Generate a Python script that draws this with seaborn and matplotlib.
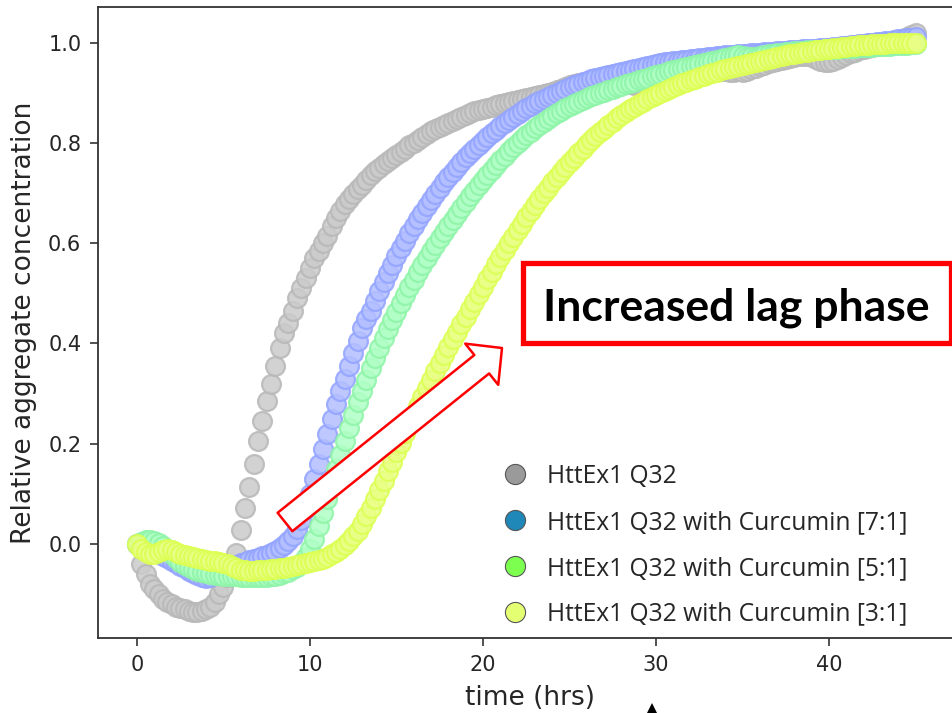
import numpy as np
import pandas as pd
import matplotlib.pyplot as plt
import seaborn as sns
from matplotlib.lines import Line2D
from matplotlib.patches import Rectangle, FancyArrowPatch, Polygon, ArrowStyle

# readings every 15 min (0 .. 45 h)
time_hrs = np.arange(0, 45.25, 0.25)

q32 = [
    0.0, -0.04, -0.06, -0.08, -0.09, -0.10, -0.11, -0.115, -0.12, -0.125, -0.128, -0.13, -0.133, -0.135, -0.135, -0.134, -0.13, -0.125, -0.115, -0.10,
    -0.085, -0.066, -0.046, -0.018, 0.028, 0.072, 0.114, 0.16, 0.205, 0.245, 0.285, 0.32, 0.355, 0.39, 0.42, 0.44, 0.465, 0.49, 0.51, 0.53,
    0.55, 0.57, 0.585, 0.60, 0.615, 0.635, 0.65, 0.665, 0.677, 0.688, 0.698, 0.707, 0.715, 0.725, 0.735, 0.743, 0.75, 0.757, 0.763, 0.77,
    0.776, 0.782, 0.788, 0.795, 0.80, 0.806, 0.812, 0.818, 0.823, 0.828, 0.832, 0.836, 0.84, 0.844, 0.848, 0.852, 0.856, 0.86, 0.863, 0.866,
    0.868, 0.87, 0.872, 0.875, 0.878, 0.88, 0.882, 0.884, 0.886, 0.888, 0.89, 0.892, 0.894, 0.896, 0.898, 0.90, 0.902, 0.905, 0.908, 0.911,
    0.915, 0.918, 0.92, 0.918, 0.916, 0.914, 0.913, 0.913, 0.914, 0.915, 0.917, 0.919, 0.921, 0.92, 0.918, 0.916, 0.915, 0.916, 0.918, 0.92,
    0.923, 0.926, 0.929, 0.932, 0.935, 0.937, 0.94, 0.942, 0.944, 0.946, 0.947, 0.948, 0.949, 0.948, 0.946, 0.944, 0.943, 0.942, 0.942, 0.943,
    0.942, 0.944, 0.947, 0.95, 0.953, 0.956, 0.959, 0.962, 0.964, 0.966, 0.968, 0.97, 0.972, 0.973, 0.974, 0.974, 0.972, 0.968, 0.964, 0.962,
    0.962, 0.964, 0.968, 0.972, 0.976, 0.979, 0.982, 0.985, 0.987, 0.989, 0.991, 0.993, 0.995, 0.997, 0.999, 1.001, 1.004, 1.007, 1.01, 1.014,
    1.018,
]

curc_7_1 = [
    0.0, 0.0, -0.004, -0.008, -0.013, -0.018, -0.023, -0.028, -0.033, -0.038, -0.043, -0.048, -0.053, -0.058, -0.062, -0.066, -0.068, -0.066, -0.062, -0.058,
    -0.052, -0.048, -0.045, -0.042, -0.038, -0.035, -0.032, -0.03, -0.027, -0.024, -0.021, -0.018, -0.014, -0.008, -0.002, 0.006, 0.016, 0.03, 0.048, 0.07,
    0.1, 0.13, 0.16, 0.19, 0.22, 0.25, 0.28, 0.305, 0.33, 0.355, 0.38, 0.405, 0.43, 0.448, 0.465, 0.485, 0.505, 0.523, 0.54, 0.557,
    0.574, 0.59, 0.605, 0.62, 0.634, 0.648, 0.661, 0.674, 0.686, 0.698, 0.71, 0.721, 0.732, 0.742, 0.752, 0.762, 0.771, 0.78, 0.788, 0.796,
    0.804, 0.812, 0.819, 0.826, 0.833, 0.84, 0.846, 0.852, 0.858, 0.864, 0.869, 0.874, 0.879, 0.884, 0.888, 0.892, 0.896, 0.9, 0.904, 0.908,
    0.912, 0.915, 0.918, 0.921, 0.924, 0.927, 0.93, 0.932, 0.934, 0.936, 0.938, 0.94, 0.942, 0.944, 0.946, 0.948, 0.95, 0.952, 0.954, 0.956,
    0.958, 0.96, 0.961, 0.962, 0.963, 0.964, 0.965, 0.966, 0.967, 0.968, 0.969, 0.97, 0.971, 0.972, 0.973, 0.974, 0.975, 0.975, 0.976, 0.977,
    0.978, 0.978, 0.979, 0.98, 0.98, 0.981, 0.982, 0.982, 0.983, 0.984, 0.984, 0.985, 0.986, 0.986, 0.987, 0.987, 0.988, 0.988, 0.989, 0.989,
    0.99, 0.991, 0.992, 0.993, 0.994, 0.995, 0.996, 0.997, 0.998, 0.999, 1.0, 1.001, 1.002, 1.003, 1.004, 1.005, 1.006, 1.007, 1.008, 1.009,
    1.01,
]

curc_5_1 = [
    0.0, 0.005, 0.008, 0.008, 0.006, 0.002, -0.004, -0.012, -0.02, -0.028, -0.035, -0.041, -0.046, -0.05, -0.053, -0.056, -0.058, -0.06, -0.061, -0.062,
    -0.063, -0.063, -0.064, -0.064, -0.065, -0.065, -0.066, -0.066, -0.066, -0.066, -0.065, -0.064, -0.063, -0.061, -0.058, -0.055, -0.05, -0.045, -0.037, -0.025,
    -0.01, 0.01, 0.035, 0.062, 0.09, 0.12, 0.15, 0.178, 0.205, 0.232, 0.258, 0.283, 0.306, 0.328, 0.35, 0.37, 0.39, 0.41, 0.428, 0.446,
    0.463, 0.48, 0.496, 0.512, 0.527, 0.542, 0.556, 0.57, 0.584, 0.597, 0.61, 0.622, 0.634, 0.646, 0.658, 0.67, 0.682, 0.693, 0.704, 0.715,
    0.725, 0.735, 0.745, 0.755, 0.765, 0.774, 0.783, 0.792, 0.80, 0.808, 0.815, 0.822, 0.829, 0.836, 0.842, 0.848, 0.854, 0.859, 0.864, 0.869,
    0.873, 0.877, 0.881, 0.885, 0.889, 0.893, 0.896, 0.899, 0.902, 0.905, 0.908, 0.911, 0.914, 0.917, 0.92, 0.922, 0.925, 0.928, 0.93, 0.933,
    0.935, 0.938, 0.94, 0.943, 0.945, 0.947, 0.95, 0.952, 0.954, 0.956, 0.958, 0.96, 0.962, 0.964, 0.966, 0.968, 0.97, 0.972, 0.974, 0.975,
    0.974, 0.972, 0.971, 0.972, 0.974, 0.975, 0.977, 0.978, 0.979, 0.98, 0.981, 0.982, 0.983, 0.983, 0.984, 0.985, 0.985, 0.986, 0.986, 0.987,
    0.987, 0.988, 0.988, 0.989, 0.989, 0.99, 0.99, 0.991, 0.991, 0.992, 0.992, 0.993, 0.993, 0.994, 0.994, 0.995, 0.995, 0.996, 0.996, 0.997,
    0.998,
]

curc_3_1 = [
    0.0, -0.01, -0.016, -0.02, -0.02, -0.016, -0.012, -0.01, -0.012, -0.016, -0.02, -0.022, -0.024, -0.026, -0.028, -0.03, -0.032, -0.033, -0.034, -0.035,
    -0.037, -0.04, -0.044, -0.048, -0.051, -0.052, -0.053, -0.053, -0.052, -0.052, -0.051, -0.05, -0.049, -0.048, -0.047, -0.045, -0.044, -0.042, -0.04, -0.038,
    -0.036, -0.034, -0.032, -0.029, -0.025, -0.02, -0.015, -0.009, -0.002, 0.006, 0.015, 0.025, 0.04, 0.055, 0.072, 0.09, 0.108, 0.126, 0.145, 0.164,
    0.183, 0.202, 0.221, 0.24, 0.258, 0.276, 0.294, 0.311, 0.328, 0.345, 0.361, 0.377, 0.393, 0.408, 0.423, 0.438, 0.453, 0.468, 0.483, 0.498,
    0.513, 0.528, 0.543, 0.558, 0.572, 0.586, 0.6, 0.613, 0.626, 0.639, 0.652, 0.664, 0.676, 0.688, 0.699, 0.71, 0.721, 0.731, 0.741, 0.751,
    0.761, 0.77, 0.779, 0.788, 0.797, 0.805, 0.813, 0.821, 0.828, 0.835, 0.842, 0.849, 0.855, 0.861, 0.867, 0.872, 0.877, 0.882, 0.887, 0.892,
    0.896, 0.9, 0.904, 0.908, 0.912, 0.916, 0.919, 0.922, 0.925, 0.928, 0.931, 0.934, 0.937, 0.94, 0.942, 0.945, 0.947, 0.95, 0.952, 0.954,
    0.956, 0.958, 0.96, 0.962, 0.964, 0.966, 0.968, 0.97, 0.972, 0.974, 0.975, 0.977, 0.978, 0.98, 0.981, 0.982, 0.983, 0.985, 0.986, 0.987,
    0.988, 0.989, 0.99, 0.991, 0.992, 0.993, 0.994, 0.995, 0.995, 0.996, 0.997, 0.997, 0.998, 0.998, 0.999, 0.999, 1.0, 1.0, 1.0, 1.0,
    1.0,
]

labels = [
    "HttEx1 Q32",
    "HttEx1 Q32 with Curcumin [7:1]",
    "HttEx1 Q32 with Curcumin [5:1]",
    "HttEx1 Q32 with Curcumin [3:1]",
]
series = [q32, curc_7_1, curc_5_1, curc_3_1]

# plotted markers (pale) and the legend swatches (stronger)
face_colors = ["#cbcbcb", "#b3bfff", "#b0ffc6", "#e9ff86"]
edge_colors = ["#b8b8b8", "#93a4ff", "#8ef4a8", "#dcff52"]
legend_colors = ["#9a9a9a", "#1f88b8", "#7dff50", "#e4ff72"]

frames = []
for name, vals in zip(labels, series):
    frames.append(pd.DataFrame({"time": time_hrs, "value": vals, "sample": name}))
df = pd.concat(frames, ignore_index=True)

sns.set_style("ticks")
plt.rcParams["font.family"] = ["DejaVu Sans"]

W, H = 953, 713
fig = plt.figure(figsize=(W / 100, H / 100), dpi=100)
ax = fig.add_axes([98 / W, 1 - 638 / H, (W - 98) / W, (638 - 7) / H])

for name, fc, ec in zip(labels, face_colors, edge_colors):
    sub = df[df["sample"] == name]
    sns.scatterplot(data=sub, x="time", y="value", ax=ax, s=185,
                    color=fc, edgecolor=ec, linewidth=1.6, alpha=0.85,
                    legend=False, zorder=2)

ax.set_xlim(-2.25, 47.16)
ax.set_ylim(-0.1874, 1.0708)
ax.set_xticks([0, 10, 20, 30, 40])
ax.set_yticks([0.0, 0.2, 0.4, 0.6, 0.8, 1.0])
ax.set_yticklabels(["0.0", "0.2", "0.4", "0.6", "0.8", "1.0"])
ax.tick_params(labelsize=15, length=6, width=1.2, color="#333333", pad=6)
for side in ["left", "bottom", "top"]:
    ax.spines[side].set_linewidth(1.3)
    ax.spines[side].set_color("#333333")
ax.spines["right"].set_visible(False)

ax.set_xlabel("time (hrs)", fontsize=19)
ax.set_ylabel("Relative aggregate concentration", fontsize=19)
ax.xaxis.set_label_coords(0.505, -0.074)
ax.yaxis.set_label_coords(-0.071, 0.5)

handles = [Line2D([], [], marker="o", linestyle="none", markersize=14.5,
                  markerfacecolor=c, markeredgecolor="#555555", markeredgewidth=0.8)
           for c in legend_colors]
ax.legend(handles, labels, loc="upper left",
          bbox_to_anchor=(503 / W, 1 - 464 / H), bbox_transform=fig.transFigure,
          frameon=False, borderpad=0, borderaxespad=0, handlelength=1.0,
          handletextpad=0.8, labelspacing=0.85,
          prop={"family": "Open Sans", "size": 17.7})

# arrow showing the shift of the curves
arrow = FancyArrowPatch((285 / W, 1 - 522 / H), (502 / W, 1 - 348 / H),
                        transform=fig.transFigure,
                        arrowstyle=ArrowStyle.Simple(head_length=18.7, head_width=38, tail_width=17),
                        mutation_scale=1, shrinkA=0, shrinkB=0,
                        facecolor="white", edgecolor="red", linewidth=1.8, zorder=5)
fig.add_artist(arrow)

box = Rectangle((523 / W, 1 - 342.5 / H), (951 - 523) / W, (342.5 - 262.5) / H,
                transform=fig.transFigure, facecolor="white", edgecolor="red",
                linewidth=3.8, zorder=5)
fig.add_artist(box)
fig.text(736 / W, 1 - 320 / H, "Increased lag phase", ha="center", va="baseline",
         fontsize=32, fontweight="bold", family="Lato", color="black", zorder=6)

tri = Polygon([(647 / W, 0), (657 / W, 0), (652 / W, 1 - 703 / H)], closed=True,
              transform=fig.transFigure, facecolor="black", edgecolor="none", zorder=5)
fig.add_artist(tri)

fig.savefig("out.png", dpi=100)
